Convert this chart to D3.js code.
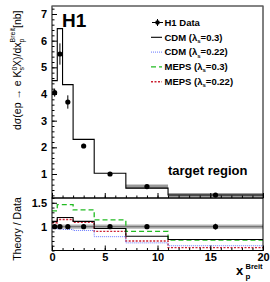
<!DOCTYPE html>
<html>
<head>
<meta charset="utf-8">
<script src="https://cdn.jsdelivr.net/npm/d3@7"></script>
<style>
  body { margin: 0; background: #fff; }
  text { font-family: "Liberation Sans", Arial, sans-serif; }
  .tk text { font-size: 11px; font-weight: bold; }
</style>
</head>
<body>
<svg id="chart" width="270" height="282"></svg>
<script>
// bin edges in x_p^Breit
var binEdges = [0, 0.5, 1, 2, 4, 7, 11, 20];
var binCentres = [0.25, 0.75, 1.5, 3, 5.5, 9, 15.5];

// H1 data
var dataVal = [4.05, 5.5, 3.7, 2.05, 1.0, 0.53, 0.21];
var dataErr = [0.15, 0.4, 0.25, 0.08, 0.05, 0.03, 0.02];

// CDM (lambda_s = 0.3) in the upper panel
var cdmTop = [4.5, 6.45, 4.35, 2.3, 1.03, 0.47, 0.21];

// theory / data ratios
var ratioCdm03 = [1.11, 1.19, 1.19, 1.11, 0.96, 0.80, 0.73];
var ratioCdm022 = [0.96, 0.95, 0.94, 0.92, 0.79, 0.66, 0.60];
var ratioMeps03 = [1.33, 1.46, 1.46, 1.35, 1.14, 0.90, 0.72];
var ratioMeps022 = [1.08, 1.15, 1.15, 1.09, 0.90, 0.70, 0.56];
var ratioErr = [0.03, 0.03, 0.03, 0.03, 0.03, 0.04, 0.06];

var legendLabels = ["H1 Data", "CDM (λ", "CDM (λ", "MEPS (λ", "MEPS (λ"];
var legendValues = ["", "=0.3)", "=0.22)", "=0.3)", "=0.22)"];

var svg = d3.select("#chart");

var x = d3.scaleLinear().domain([0, 20]).range([52, 263]);
var yTop = d3.scaleLinear().domain([0.1, 7.3]).range([198, 6]);
var yBot = d3.scaleLinear().domain([0.5, 1.6]).range([250.5, 198]);

// model styles
var models = [
  { r: ratioCdm03, color: "#000", dash: null, w: 1.1 },
  { r: ratioCdm022, color: "#6677ff", dash: "1,1", w: 1 },
  { r: ratioMeps03, color: "#22bb22", dash: "5,3", w: 1.3 },
  { r: ratioMeps022, color: "#cc2233", dash: "2,1.5", w: 1.4 }
];

function stepPts(vals) {
  var pts = vals.map(function (v, i) { return [binEdges[i], v]; });
  pts.push([binEdges[binEdges.length - 1], vals[vals.length - 1]]);
  return pts;
}

// ---------- upper panel ----------
// grey band on the last bins
svg.append("g").selectAll("rect")
  .data([5, 6])
  .enter().append("rect")
  .attr("x", function (i) { return x(binEdges[i]); })
  .attr("width", function (i) { return x(binEdges[i + 1]) - x(binEdges[i]); })
  .attr("y", function (i) { return yTop(dataVal[i]) - 2; })
  .attr("height", 4)
  .attr("fill", "#999");

var lineTop = d3.line()
  .x(function (d) { return x(d[0]); })
  .y(function (d) { return yTop(d[1]); })
  .curve(d3.curveStepAfter);

svg.append("path")
  .attr("d", lineTop(stepPts(cdmTop)))
  .attr("fill", "none")
  .attr("stroke", "#000")
  .attr("stroke-width", 1.1);

// data points
var pTop = svg.append("g");
pTop.selectAll("line")
  .data(dataVal)
  .enter().append("line")
  .attr("x1", function (d, i) { return x(binCentres[i]); })
  .attr("x2", function (d, i) { return x(binCentres[i]); })
  .attr("y1", function (d, i) { return yTop(d - dataErr[i]); })
  .attr("y2", function (d, i) { return yTop(d + dataErr[i]); })
  .attr("stroke", "#000");
pTop.selectAll("circle")
  .data(dataVal)
  .enter().append("circle")
  .attr("cx", function (d, i) { return x(binCentres[i]); })
  .attr("cy", function (d) { return yTop(d); })
  .attr("r", 2.6)
  .attr("fill", "#000");

// axes upper
svg.append("g").attr("class", "tk")
  .attr("transform", "translate(52,0)")
  .call(d3.axisLeft(yTop).tickValues([1, 2, 3, 4, 5, 6, 7]).tickSize(-5).tickPadding(5).tickFormat(d3.format("d")));
svg.append("g")
  .attr("transform", "translate(52,0)")
  .call(d3.axisLeft(yTop).tickValues(d3.range(2, 73, 2).map(function (v) { return v / 10; })).tickSize(-2.5).tickFormat(""));
svg.append("g")
  .attr("transform", "translate(0,198)")
  .call(d3.axisBottom(x).tickValues([0, 5, 10, 15, 20]).tickSize(-5).tickFormat(""));
svg.append("g")
  .attr("transform", "translate(0,198)")
  .call(d3.axisBottom(x).tickValues(d3.range(0, 21)).tickSize(-2.5).tickFormat(""));

svg.append("rect")
  .attr("x", 52).attr("y", 6).attr("width", 211).attr("height", 192)
  .attr("fill", "none").attr("stroke", "#000");
svg.append("line")
  .attr("x1", 52).attr("x2", 263).attr("y1", 6).attr("y2", 6)
  .attr("stroke", "#888");

// ---------- lower panel ----------
svg.append("rect")
  .attr("x", x(0)).attr("width", x(20) - x(0))
  .attr("y", yBot(1.045)).attr("height", yBot(0.955) - yBot(1.045))
  .attr("fill", "#b5b5b5");
svg.append("line")
  .attr("x1", x(0)).attr("x2", x(20))
  .attr("y1", yBot(1)).attr("y2", yBot(1))
  .attr("stroke", "#777").attr("stroke-width", 1.2);

var lineBot = d3.line()
  .x(function (d) { return x(d[0]); })
  .y(function (d) { return yBot(d[1]); })
  .curve(d3.curveStepAfter);

svg.append("g").selectAll("path")
  .data(models.slice().reverse())
  .enter().append("path")
  .attr("d", function (m) { return lineBot(stepPts(m.r)); })
  .attr("fill", "none")
  .attr("stroke", function (m) { return m.color; })
  .attr("stroke-width", function (m) { return m.w; })
  .attr("stroke-dasharray", function (m) { return m.dash; });

var pBot = svg.append("g");
pBot.selectAll("line")
  .data(ratioErr)
  .enter().append("line")
  .attr("x1", function (d, i) { return x(binCentres[i]); })
  .attr("x2", function (d, i) { return x(binCentres[i]); })
  .attr("y1", function (d) { return yBot(1 - d); })
  .attr("y2", function (d) { return yBot(1 + d); })
  .attr("stroke", "#000");
pBot.selectAll("circle")
  .data(ratioErr)
  .enter().append("circle")
  .attr("cx", function (d, i) { return x(binCentres[i]); })
  .attr("cy", yBot(1))
  .attr("r", 2.6)
  .attr("fill", "#000");

svg.append("g").attr("class", "tk")
  .attr("transform", "translate(52,0)")
  .call(d3.axisLeft(yBot).tickValues([1, 1.5]).tickSize(-5).tickPadding(5).tickFormat(function (d) { return d === 1 ? "1" : "1.5"; }));
svg.append("g")
  .attr("transform", "translate(52,0)")
  .call(d3.axisLeft(yBot).tickValues(d3.range(5, 17).map(function (v) { return v / 10; })).tickSize(-2.5).tickFormat(""));
svg.append("g").attr("class", "tk")
  .attr("transform", "translate(0,250.5)")
  .call(d3.axisBottom(x).tickValues([0, 5, 10, 15, 20]).tickSize(-5).tickPadding(3).tickFormat(d3.format("d")));
svg.append("g")
  .attr("transform", "translate(0,250.5)")
  .call(d3.axisBottom(x).tickValues(d3.range(0, 21)).tickSize(-2.5).tickFormat(""));
svg.append("rect")
  .attr("x", 52).attr("y", 198).attr("width", 211).attr("height", 52.5)
  .attr("fill", "none").attr("stroke", "#000");

svg.selectAll(".domain").remove();
svg.selectAll(".tick line").attr("stroke", "#000");

// ---------- texts ----------
svg.append("text")
  .attr("x", 62).attr("y", 26.5)
  .attr("font-size", 19).attr("font-weight", "bold")
  .text("H1");

svg.append("text")
  .attr("x", 168).attr("y", 175)
  .attr("font-size", 13).attr("font-weight", "bold")
  .text("target region");

// legend
var leg = svg.append("g");
legendLabels.forEach(function (lab, i) {
  var ly = 22.5 + i * 14.8;
  if (i === 0) {
    leg.append("line").attr("x1", 152).attr("x2", 163).attr("y1", ly).attr("y2", ly).attr("stroke", "#000");
    leg.append("line").attr("x1", 157.5).attr("x2", 157.5).attr("y1", ly - 3.5).attr("y2", ly + 3.5).attr("stroke", "#000");
    leg.append("circle").attr("cx", 157.5).attr("cy", ly).attr("r", 2.3).attr("fill", "#000");
  } else {
    var m = models[i - 1];
    leg.append("line").attr("x1", 151).attr("x2", 162).attr("y1", ly).attr("y2", ly)
      .attr("stroke", m.color).attr("stroke-width", m.w).attr("stroke-dasharray", m.dash);
  }
  var t = leg.append("text")
    .attr("x", 164.5).attr("y", ly + 3.3)
    .attr("font-size", 9.5).attr("font-weight", "bold");
  t.append("tspan").text(lab);
  if (i > 0) {
    t.append("tspan").attr("dy", 2.2).attr("font-size", 6).text("s");
    t.append("tspan").attr("dy", -2.2).text(legendValues[i]);
  }
});

// y label upper
var yl = svg.append("text")
  .attr("transform", "translate(21,130) rotate(-90)")
  .attr("font-size", 10.5);
yl.append("tspan").text("dσ(ep → e K");
yl.append("tspan").attr("dy", -4.2).attr("font-size", 7).text("0");
yl.append("tspan").attr("dx", -3.9).attr("dy", 7.5).attr("font-size", 7).text("s");
yl.append("tspan").attr("dy", -3.3).text("X)/dx");
yl.append("tspan").attr("dy", 3.3).attr("font-size", 7).text("p");
yl.append("tspan").attr("dx", -3.9).attr("dy", -9.5).attr("font-size", 7).text("Breit");
yl.append("tspan").attr("dy", 6.2).text("[nb]");

// y label lower
svg.append("text")
  .attr("transform", "translate(21,229) rotate(-90)")
  .attr("text-anchor", "middle")
  .attr("font-size", 10.5)
  .text("Theory / Data");

// x label
var xl = svg.append("text").attr("x", 236).attr("y", 275).attr("font-weight", "bold");
xl.append("tspan").attr("font-size", 13).text("x");
svg.append("text").attr("x", 245.5).attr("y", 269).attr("font-size", 7.5).attr("font-weight", "bold").text("Breit");
svg.append("text").attr("x", 245.5).attr("y", 279).attr("font-size", 8).attr("font-weight", "bold").text("p");
</script>
</body>
</html>
